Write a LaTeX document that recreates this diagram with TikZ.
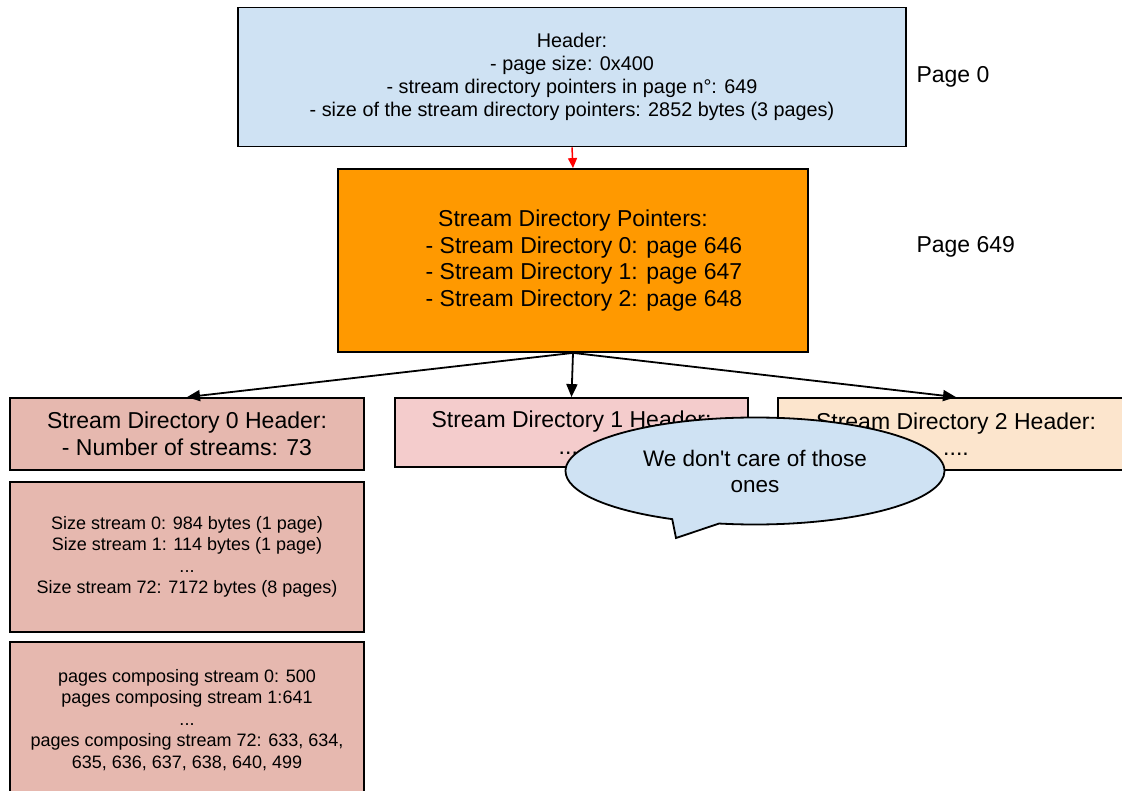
\documentclass[tikz,border=0pt]{standalone}
\usepackage{fontspec}
\setmainfont{Liberation Sans}
\usetikzlibrary{arrows.meta,shapes.callouts}

\definecolor{hdrblue}{HTML}{CFE2F3}
\definecolor{ptrorange}{HTML}{FF9900}
\definecolor{dirzero}{HTML}{E6B8AF}
\definecolor{dirone}{HTML}{F4CCCC}
\definecolor{dirtwo}{HTML}{FCE5CD}

\begin{document}
\begin{tikzpicture}[x=1pt, y=-1pt,
    box/.style={draw, rectangle, line width=1.8pt, inner sep=0pt, align=center},
    small/.style={font=\fontsize{18}{21.5}\selectfont},
    big/.style={font=\fontsize{23}{26.5}\selectfont},
    link/.style={-{Triangle[length=13pt,width=11pt]}, line width=1.8pt}]
    \useasboundingbox (0,0) rectangle (1122,791);
    \clip (0,0) rectangle (1122,791);

    % File header, page 0
    \node[box, font=\fontsize{19.8}{23}\selectfont, fill=hdrblue, minimum width=668pt, minimum height=139pt] (hdr) at (572,77)
        {Header:\\- page size: 0x400\\- stream directory pointers in page n°: 649\\- size of the stream directory pointers: 2852 bytes (3 pages)};
    \node[big, anchor=west] (pg0) at (913,77) {Page 0};

    % Stream directory pointers, page 649
    \node[box, big, fill=ptrorange, minimum width=470pt, minimum height=183pt] (sdp) at (573,260.5)
        {Stream Directory Pointers:\\\hspace*{22pt}- Stream Directory 0: page 646\\\hspace*{22pt}- Stream Directory 1: page 647\\\hspace*{22pt}- Stream Directory 2: page 648};
    \node[big, anchor=west] (pg649) at (913,247) {Page 649};

    % Stream directories
    \node[box, big, fill=dirzero, minimum width=354pt, minimum height=72pt] (sd0) at (187,434)
        {Stream Directory 0 Header:\\- Number of streams: 73};
    \node[box, big, fill=dirone, minimum width=353pt, minimum height=69pt] (sd1) at (571.5,432.5)
        {Stream Directory 1 Header:\\....};
    \node[box, big, fill=dirtwo, minimum width=356pt, minimum height=72pt] (sd2) at (956,434)
        {Stream Directory 2 Header:\\....};

    % Content of stream directory 0
    \node[box, small, fill=dirzero, minimum width=354pt, minimum height=150pt] (sizes) at (187,557)
        {Size stream 0: 984 bytes (1 page)\\Size stream 1: 114 bytes (1 page)\\...\\Size stream 72: 7172 bytes (8 pages)};
    \node[box, small, fill=dirzero, minimum width=354pt, minimum height=156pt] (pages) at (187,720)
        {pages composing stream 0: 500\\pages composing stream 1:641\\...\\pages composing stream 72: 633, 634,\\635, 636, 637, 638, 640, 499};

    % Connections
    \draw[-{Triangle[length=10pt,width=9pt]}, line width=1.5pt, red] (hdr.south) -- (sdp.north);
    \draw[link] (sdp.south) -- (sd0.north);
    \draw[link] (sdp.south) -- (sd1.north);
    \draw[link] (sdp.south) -- (sd2.north);

    % Note
    \node[ellipse callout, draw, line width=1.8pt, fill=hdrblue, align=center, inner sep=0pt,
        font=\fontsize{22.5}{26}\selectfont, minimum width=379pt, minimum height=107pt,
        callout absolute pointer={(676,538)}] (note) at (755,471)
        {We don\textquotesingle t care of those\\ones};
\end{tikzpicture}
\end{document}
